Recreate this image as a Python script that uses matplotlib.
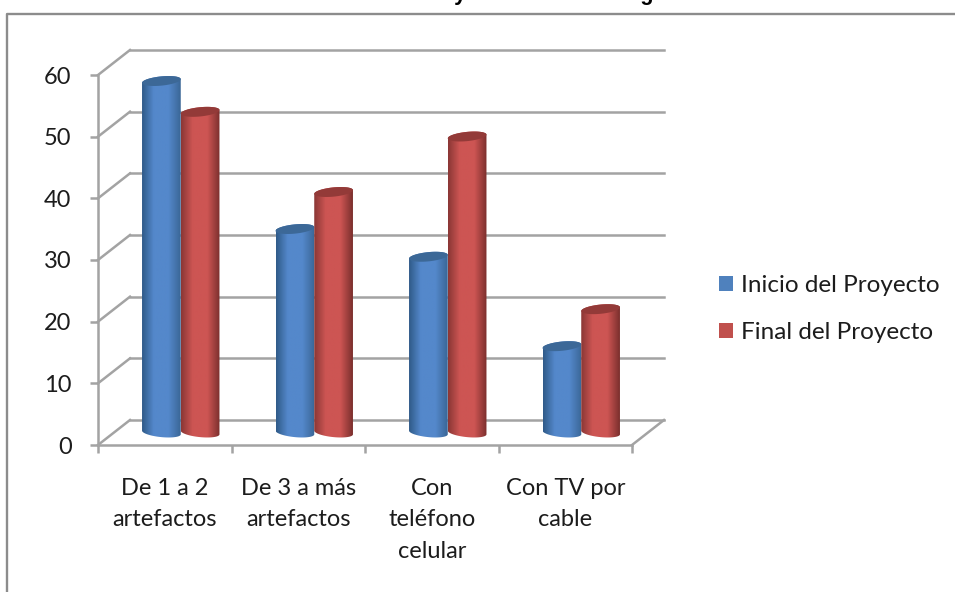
#!/usr/bin/env python
"""3d looking cylinder chart: artefactos, telefono y cable, inicio vs final"""
# %%
import numpy as np
import matplotlib
matplotlib.use("Agg")
import matplotlib.pyplot as plt
from matplotlib.lines import Line2D
from matplotlib.patches import Patch, PathPatch, Polygon
from matplotlib.path import Path

plt.rcParams['font.family'] = ['Lato', 'DejaVu Sans']

# %% ---------------------------------
#           data
# ------------------------------------
categories = ['De 1 a 2\nartefactos', 'De 3 a más\nartefactos', 'Con\nteléfono\ncelular', 'Con TV por\ncable']
inicio = [57, 33, 28.5, 14]
final = [52, 39, 48, 20]
series_names = ['Inicio del Proyecto', 'Final del Proyecto']
y_ticks = [0, 10, 20, 30, 40, 50, 60]
title_text = 'Gráfico 1: Cantidad de artefactos eléctricos y con TV de su hogar.'

# %% ---------------------------------
#           style
# ------------------------------------
W, H = 955, 592
grid_col = '#a3a3a3'
text_col = '#1c1c1c'
depth_x = 32 / 133.5   # wall offset, category units
depth_y = 25 / 6.167   # wall offset, value units
bar_w = 0.29
blue = dict(left='#2f5a88', mid='#5488cb', right='#3a6696', top='#3c6897', key='#4f81bd')
red = dict(left='#8a3735', mid='#cd5553', right='#7b2f2d', top='#933a38', key='#c0504d')


def hex2rgb(c):
    return np.array(matplotlib.colors.to_rgb(c))


def draw_cylinder(ax, x0, val, cols, z):
    """gradient body clipped to a cylinder outline, darker ellipse on top"""
    x0 = x0 + depth_x / 2
    base = depth_y / 2
    top = val + depth_y / 2
    rx = bar_w / 2
    ry = 0.75   # ellipse half height, value units
    tilt = 0.3
    cx = x0 + rx
    t = np.linspace(0, 2 * np.pi, 80)
    # gradient across the bar
    u = np.linspace(0, 1, 100)
    rgb = np.zeros((1, 100, 3))
    for k in range(3):
        rgb[0, :, k] = np.interp(u, [0, 0.3, 0.68, 1],
                                 [hex2rgb(cols['left'])[k], hex2rgb(cols['mid'])[k],
                                  hex2rgb(cols['mid'])[k], hex2rgb(cols['right'])[k]])
    im = ax.imshow(rgb, extent=(x0, x0 + bar_w, base - 2, top + 2), aspect='auto', zorder=z,
                   interpolation='bilinear')
    # outline: bottom half of lower ellipse, then up and over
    tb = np.linspace(np.pi, 2 * np.pi, 40)
    xb = cx + rx * np.cos(tb)
    yb = base + ry * np.sin(tb) * 1.0 + tilt * np.cos(tb) * -1
    tt = np.linspace(0, np.pi, 40)
    xt = cx + rx * np.cos(tt)
    yt = top + ry * np.sin(tt) + tilt * np.cos(tt)
    verts = np.column_stack([np.r_[xb, xt], np.r_[yb, yt]])
    clip = Polygon(verts, closed=True, transform=ax.transData)
    im.set_clip_path(clip)
    xe = cx + rx * np.cos(t)
    ye = top + ry * np.sin(t) + tilt * np.cos(t)
    ax.add_patch(PathPatch(Path(np.column_stack([xe, ye])), facecolor=cols['top'], edgecolor='none',
                           zorder=z + 0.1, clip_on=False))


# %% ---------------------------------
#           figure
# ------------------------------------
fig = plt.figure(figsize=(W / 100, H / 100), dpi=100, facecolor='white')
ax = fig.add_axes([98 / W, 1 - 445 / H, (632 - 98) / W, (445 - 75) / H])
ax.patch.set_alpha(0)

# outer chart frame, runs off the picture right and bottom
fig.add_artist(Line2D([7 / W, 7 / W, 1], [0, 1 - 13.5 / H, 1 - 13.5 / H], color='#8c8c8c', lw=1.7))
# title of the page, only its lower edge is left in the crop
fig.text(-2 / W, 1.0, title_text, fontsize=15.7, fontweight='bold', color='black',
         family=['Liberation Sans'], ha='left', va='baseline')

# back wall and side wall lines
n = len(categories)
for v in y_ticks:
    ax.plot([depth_x, n + depth_x], [v + depth_y, v + depth_y], color=grid_col, lw=1.8, zorder=1, clip_on=False)
    ax.plot([0, depth_x], [v, v + depth_y], color=grid_col, lw=1.8, zorder=1, clip_on=False)
ax.plot([n, n + depth_x], [0, depth_y], color=grid_col, lw=1.8, zorder=1, clip_on=False)

for i in range(n):
    x_start = i + 0.5 - bar_w
    draw_cylinder(ax, x_start, inicio[i], blue, 3)
    draw_cylinder(ax, x_start + bar_w, final[i], red, 4)

ax.set_xlim(0, n)
ax.set_ylim(0, 60)

for s in ['top', 'right']:
    ax.spines[s].set_visible(False)
for s in ['left', 'bottom']:
    ax.spines[s].set_color(grid_col)
    ax.spines[s].set_linewidth(1.8)

ax.set_yticks(y_ticks)
ax.set_xticks(np.arange(n + 1))
ax.set_xticklabels([])
ax.set_xticks(np.arange(n) + 0.5, labels=categories, minor=True)
ax.tick_params(axis='both', which='major', color=grid_col, width=1.8, length=6)
ax.tick_params(axis='y', labelsize=17, labelcolor=text_col, pad=13)
ax.tick_params(axis='x', which='minor', length=0, labelsize=17, labelcolor=text_col, pad=23.5)
for lab in ax.get_xticklabels(minor=True):
    lab.set_linespacing(1.63)

handles = [Patch(facecolor=blue['key'], edgecolor='none'), Patch(facecolor=red['key'], edgecolor='none')]
leg = fig.legend(handles, series_names, loc='center left', bbox_to_anchor=(719 / W, 1 - 309 / H),
                 frameon=False, fontsize=17.5, labelcolor=text_col, handlelength=0.58, handleheight=0.58,
                 handletextpad=0.32, labelspacing=1.05, borderpad=0, borderaxespad=0)

fig.savefig('out.png', dpi=100)
